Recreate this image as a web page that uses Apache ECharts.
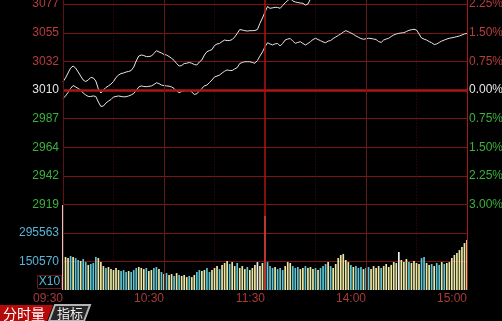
<!DOCTYPE html>
<html>
<head>
<meta charset="utf-8">
<style>
html,body{margin:0;padding:0;background:#000;}
#c{width:502px;height:321px;}
</style>
<script src="https://cdn.jsdelivr.net/npm/echarts@6/dist/echarts.min.js"></script>
</head>
<body>
<div id="c"></div>
<script>
// ---- data ----
const base = 3010;
const timeLabels = ['09:30', '10:30', '11:30', '14:00', '15:00'];
const leftLabels = ['2919', '2942', '2964', '2987', '3010', '3032', '3055', '3077', '3100'];
const rightLabels = ['3.00%', '2.25%', '1.50%', '0.75%', '0.00%', '0.75%', '1.50%', '2.25%', '3.00%'];
const volLabels = ['', '150570', '295563', ''];
const volUnit = 'X10';

const upper = [
  3016.5, 3019.5, 3023.4, 3027.3, 3028.9, 3027.3, 3024.2, 3021.0, 3017.9, 3016.7,
  3017.9, 3019.9, 3019.5, 3017.1, 3010.8, 3007.6, 3010.0, 3012.0, 3013.2, 3014.7,
  3016.7, 3019.9, 3021.8, 3023.0, 3023.4, 3024.2, 3024.6, 3025.4, 3028.1, 3032.9,
  3036.8, 3037.6, 3037.2, 3036.3, 3036.4, 3036.8, 3038.8, 3041.0, 3040.0, 3039.2,
  3038.0, 3037.6, 3036.4, 3035.0, 3033.3, 3030.9, 3028.9, 3029.3, 3030.9, 3031.1,
  3031.7, 3031.1, 3030.1, 3029.7, 3032.1, 3033.7, 3037.6, 3040.2, 3041.1, 3041.9,
  3045.1, 3046.3, 3046.7, 3048.2, 3049.4, 3049.0, 3049.0, 3049.8, 3051.8, 3054.6,
  3057.7, 3057.3, 3056.8, 3056.5, 3056.8, 3056.8, 3056.9, 3057.7, 3062.6, 3066.8,
  3071.5, 3075.8, 3074.4, 3074.8, 3075.2, 3075.1, 3074.4, 3076.6, 3078.8, 3080.6,
  3082.2, 3080.2, 3079.4, 3079.0, 3078.6, 3078.4, 3077.0, 3077.8, 3081.8, 3084.9,
  3086.2, 3087.0, 3086.5, 3087.4, 3088.1, 3087.6, 3088.8, 3089.5, 3090.1, 3091.0,
  3091.6, 3092.2, 3091.8, 3091.0, 3090.4, 3089.7, 3089.2, 3089.5, 3090.2, 3089.8,
  3089.4, 3088.9, 3088.6, 3089.3, 3090.0, 3090.8, 3091.5, 3091.9, 3092.4, 3092.9,
  3093.1, 3092.6, 3092.0, 3091.1, 3090.2, 3089.6, 3088.9, 3089.5, 3090.3, 3091.0,
  3091.6, 3092.2, 3092.7, 3093.3, 3093.0, 3092.4, 3091.8, 3091.2, 3091.6, 3092.1,
  3092.6, 3093.2, 3093.8, 3094.3, 3094.0, 3093.6, 3094.1, 3094.7, 3095.2, 3095.6, 3096.0
];

const lower = [
  3003.3, 3005.3, 3008.0, 3011.2, 3013.5, 3012.4, 3011.2, 3010.0, 3007.6, 3006.1,
  3004.9, 3004.9, 3005.3, 3004.9, 3000.5, 2997.0, 2997.4, 2999.7, 3001.3, 3002.5,
  3004.5, 3004.9, 3005.3, 3004.9, 3004.6, 3004.7, 3005.3, 3006.1, 3007.2, 3009.6,
  3012.4, 3013.2, 3012.8, 3012.6, 3012.9, 3013.2, 3014.3, 3015.7, 3015.1, 3013.9,
  3013.5, 3013.2, 3013.0, 3012.4, 3011.2, 3009.2, 3007.9, 3008.8, 3009.4, 3009.4,
  3009.6, 3008.4, 3006.5, 3007.0, 3009.2, 3011.3, 3013.2, 3013.9, 3015.9, 3017.9,
  3020.3, 3021.0, 3021.8, 3023.4, 3024.8, 3025.8, 3025.4, 3025.4, 3026.6, 3027.7,
  3030.9, 3031.7, 3032.3, 3032.3, 3032.3, 3031.7, 3031.1, 3033.3, 3036.8, 3040.0,
  3044.1, 3047.3, 3046.3, 3045.5, 3046.4, 3046.7, 3044.7, 3046.7, 3049.4, 3050.2,
  3050.6, 3048.6, 3046.8, 3047.5, 3048.1, 3046.7, 3045.5, 3046.7, 3048.1, 3049.8,
  3050.8, 3049.8, 3048.9, 3047.9, 3047.3, 3048.6, 3049.0, 3050.6, 3051.8, 3053.0,
  3054.2, 3055.7, 3056.8, 3056.0, 3055.0, 3053.9, 3052.6, 3051.6, 3050.6, 3050.0,
  3050.4, 3050.8, 3050.6, 3050.2, 3049.8, 3048.2, 3047.5, 3049.4, 3050.2, 3050.8,
  3052.2, 3053.4, 3054.2, 3054.7, 3055.0, 3055.2, 3056.1, 3057.1, 3057.5, 3057.9,
  3057.3, 3054.2, 3051.0, 3050.1, 3049.4, 3048.2, 3047.3, 3045.9, 3046.3, 3047.5,
  3048.6, 3049.4, 3050.2, 3050.8, 3051.2, 3051.6, 3052.1, 3052.6, 3053.4, 3054.2, 3054.7
];

const volume = [
  448000, 174000, 168000, 179000, 174000, 168000, 158000, 153000, 163000, 147000,
  132000, 137000, 142000, 174000, 168000, 147000, 126000, 116000, 121000, 110000,
  105000, 116000, 105000, 100000, 105000, 95000, 100000, 95000, 105000, 116000,
  121000, 116000, 110000, 116000, 100000, 105000, 116000, 121000, 110000, 95000,
  84000, 89000, 79000, 84000, 74000, 89000, 79000, 74000, 79000, 68000,
  74000, 68000, 79000, 95000, 105000, 100000, 105000, 116000, 95000, 105000,
  116000, 126000, 110000, 132000, 142000, 153000, 137000, 147000, 126000, 142000,
  116000, 126000, 110000, 121000, 105000, 116000, 132000, 147000, 126000, 142000,
  389000, 147000, 126000, 116000, 121000, 110000, 116000, 105000, 126000, 147000,
  142000, 126000, 116000, 121000, 110000, 116000, 126000, 116000, 121000, 110000,
  116000, 105000, 116000, 126000, 137000, 147000, 126000, 116000, 137000, 168000,
  184000, 190000, 158000, 147000, 132000, 121000, 126000, 116000, 121000, 110000,
  116000, 121000, 110000, 126000, 116000, 126000, 116000, 126000, 137000, 121000,
  132000, 147000, 142000, 200000, 158000, 147000, 163000, 147000, 142000, 153000,
  142000, 137000, 168000, 174000, 142000, 132000, 137000, 126000, 142000, 132000,
  147000, 137000, 142000, 147000, 168000, 184000, 195000, 210000, 226000, 247000, 263000
];

// 0 = down (cyan), 1 = up (yellow), 2 = white, 3 = pale red
const volKind = [
  2,
  1,1,0,1,
  0,0,1,0,0,
  1,0,0,0,
  1,1,
  1,0,1,1,
  1,1,1,0,
  0,0,1,0,0,0,1,
  1,1,0,1,1,
  0,0,1,0,
  1,0,1,1,0,1,0,
  1,1,1,0,1,1,
  0,0,1,
  1,0,0,1,
  1,1,0,1,1,
  1,0,1,1,0,
  1,1,1,0,1,
  1,1,2,1,1,
  3,
  0,0,0,1,0,0,
  0,1,1,1,0,
  0,0,1,1,0,
  1,1,1,0,1,
  0,0,0,1,0,1,
  1,1,1,1,1,
  1,0,1,0,
  0,0,1,0,0,1,1,
  1,1,0,1,1,1,1,1,
  1,2,1,1,1,0,1,1,1,
  1,0,0,1,1,0,1,
  0,0,1,0,1,1,
  1,1,1,1,1,1,1
];

// categories: 161 slots across the 240 trading minutes
const cats = [];
for (let i = 0; i < upper.length; i++) {
  let m = i * 1.5;
  let t = m <= 120 ? 9 * 60 + 30 + m : 13 * 60 + (m - 120);
  const hh = Math.floor(t / 60), mm = Math.floor(t % 60), ss = Math.round((t % 1) * 60);
  cats.push(String(hh).padStart(2, '0') + ':' + String(mm).padStart(2, '0') + ':' + String(ss).padStart(2, '0'));
}

// ---- build ----
const toPct = p => (p / base - 1) * 100;
const upperPct = upper.map(toPct);
const lowerPct = lower.map(toPct);
const kindColor = ['#5cc6d6', '#ece8a4', '#f2f2f2', '#f0c2ba'];
const volData = volume.map((v, i) => ({ value: v, itemStyle: { color: kindColor[volKind[i]] } }));

const FONT = 'Liberation Sans, Arial, sans-serif';
const RED_TXT = '#b83c3c', GREEN_TXT = '#3cb03c', WHITE_TXT = '#e6e6e6';
const idxOf = v => Math.round((Number(v) + 3) / 0.75);
const labelColor = v => { const k = idxOf(v); return k < 4 ? GREEN_TXT : (k === 4 ? WHITE_TXT : RED_TXT); };

const vSplit = {
  show: true,
  interval: (i) => i % 20 === 0 && i % 40 !== 0,
  lineStyle: { color: '#3e0e0e', width: 1, type: [1, 2] }
};
const vLines = [
  { xAxis: cats[0], lineStyle: { color: '#5a1414', width: 1, type: 'solid' } },
  { xAxis: cats[40], lineStyle: { color: '#641818', width: 1, type: 'solid' } },
  { xAxis: cats[80], lineStyle: { color: '#b01212', width: 1.5, type: 'solid' } },
  { xAxis: cats[120], lineStyle: { color: '#641818', width: 1, type: 'solid' } },
  { xAxis: cats[160], lineStyle: { color: '#a81818', width: 1, type: 'solid' } }
];

const chart = echarts.init(document.getElementById('c'), null, { renderer: 'canvas' });
chart.setOption({
  backgroundColor: '#000',
  animation: false,
  textStyle: { fontFamily: FONT },
  grid: [
    { left: 63, right: 35, top: -24.5, height: 229, outerBoundsMode: 'none', containLabel: false },
    { left: 63, right: 35, top: 204.5, height: 85.5, outerBoundsMode: 'none', containLabel: false }
  ],
  xAxis: [
    {
      type: 'category', gridIndex: 0, data: cats, boundaryGap: false,
      axisLine: { show: false }, axisTick: { show: false }, axisLabel: { show: false },
      splitLine: vSplit
    },
    {
      type: 'category', gridIndex: 1, data: cats, boundaryGap: false,
      axisLine: { show: false }, axisTick: { show: false },
      axisLabel: {
        show: true, interval: (i) => i % 40 === 0,
        formatter: (v, i) => timeLabels[Math.round(i / 40)],
        align: 'right', margin: 3, color: '#a83a3a', fontSize: 12, fontFamily: FONT
      },
      splitLine: vSplit
    }
  ],
  yAxis: [
    {
      type: 'value', gridIndex: 0, position: 'left', min: -3, max: 3, interval: 0.75,
      axisLine: { show: false }, axisTick: { show: false },
      axisLabel: { formatter: v => leftLabels[idxOf(v)], color: labelColor, margin: 4, fontSize: 12, fontFamily: FONT },
      splitLine: { show: true, lineStyle: { color: '#7c1616', width: 1 } }
    },
    {
      type: 'value', gridIndex: 0, position: 'right', min: -3, max: 3, interval: 0.75,
      axisLine: { show: false }, axisTick: { show: false },
      axisLabel: { formatter: v => rightLabels[idxOf(v)], color: labelColor, margin: 2, fontSize: 12, fontFamily: FONT },
      splitLine: { show: false }
    },
    {
      type: 'value', gridIndex: 1, position: 'left', min: 0, max: 450000, interval: 150000,
      axisLine: { show: false }, axisTick: { show: false },
      axisLabel: { formatter: v => volLabels[Math.round(Number(v) / 150000)], color: '#58b4d6', margin: 4, fontSize: 12, fontFamily: FONT },
      splitLine: { show: true, showMinLine: false, showMaxLine: false, lineStyle: { color: '#7c1616', width: 1 } }
    }
  ],
  series: [
    {
      type: 'line', xAxisIndex: 0, yAxisIndex: 0, data: upperPct,
      showSymbol: false, symbol: 'none', silent: true,
      lineStyle: { color: '#e8e8e8', width: 1 },
      markLine: {
        silent: true, symbol: 'none', label: { show: false }, animation: false,
        data: [{ yAxis: 0, lineStyle: { color: '#ac1616', width: 2.5, type: 'solid' } }].concat(vLines)
      },
      z: 3
    },
    {
      type: 'line', xAxisIndex: 0, yAxisIndex: 0, data: lowerPct,
      showSymbol: false, symbol: 'none', silent: true,
      lineStyle: { color: '#e4e4e4', width: 1 },
      z: 3
    },
    {
      type: 'bar', xAxisIndex: 1, yAxisIndex: 2, data: volData,
      barWidth: 1.7, silent: true,
      markLine: {
        silent: true, symbol: 'none', label: { show: false }, animation: false,
        data: vLines
      }
    }
  ],
  graphic: [
    { type: 'rect', shape: { x: 37.5, y: 275.5, width: 24, height: 13 }, style: { fill: 'none', stroke: '#6a1818', lineWidth: 1 } },
    { type: 'text', x: 49.5, y: 282, style: { text: volUnit, fill: '#58b4d6', font: '12px ' + FONT, textAlign: 'center', textVerticalAlign: 'middle' } },
    { type: 'polygon', shape: { points: [[0, 305], [53, 305], [47, 321], [0, 321]] }, style: { fill: '#b40a0a' } },
    { type: 'text', x: 3, y: 313.5, style: { text: '分时量', fill: '#ffffff', font: '14px "Noto Sans CJK SC"', textVerticalAlign: 'middle' } },
    { type: 'polygon', shape: { points: [[55, 305], [90, 305], [84, 321], [49, 321]] }, style: { fill: '#262626', stroke: '#b4b4b4', lineWidth: 2 } },
    { type: 'text', x: 57, y: 313.5, style: { text: '指标', fill: '#eeeeee', font: '13px "Noto Sans CJK SC"', textVerticalAlign: 'middle' } }
  ]
});
</script>
</body>
</html>
